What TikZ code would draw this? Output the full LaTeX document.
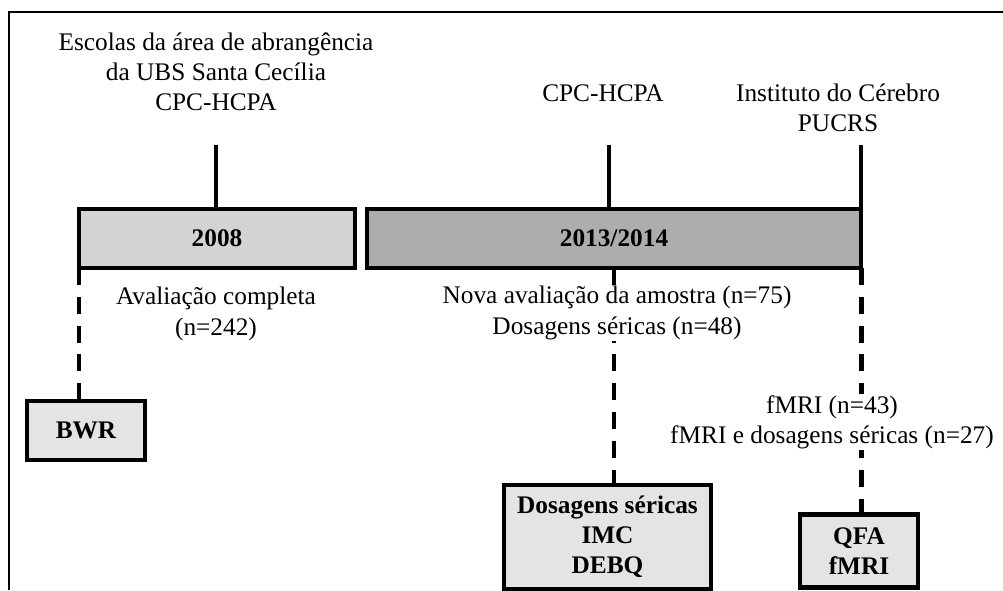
\documentclass[tikz,border=0pt]{standalone}
\usepackage{fontspec}
\setmainfont{Liberation Serif}
\definecolor{lightbar}{HTML}{D3D3D3}
\definecolor{darkbar}{HTML}{ADADAD}
\definecolor{boxfill}{HTML}{E4E4E4}

\begin{document}
\begin{tikzpicture}[x=0.025cm, y=-0.025cm,
    every node/.style={font=\fontsize{18}{21.5}\selectfont, align=center},
    period/.style={draw, line width=3pt, inner sep=0pt, outer sep=0pt, font=\fontsize{18}{21.5}\selectfont\bfseries},
    outbox/.style={draw, line width=3pt, fill=boxfill, inner sep=0pt, outer sep=0pt, font=\fontsize{18}{21.5}\selectfont\bfseries},
    solidline/.style={line width=3pt},
    dashline/.style={line width=3.5pt, dash pattern=on 12pt off 8.5pt}]

    \useasboundingbox (0,0) rectangle (1003,590);

    % frame
    \draw[line width=2pt] (9,590) -- (9,12) -- (1003,12);

    % periods
    \node[period, fill=lightbar, minimum width=6.9cm, minimum height=1.475cm] (y2008) at (217,238.5) {2008};
    \node[period, fill=darkbar, minimum width=12.35cm, minimum height=1.475cm] (y2013) at (614,238.5) {2013/2014};

    % places
    \node (schools) at (216,72) {Escolas da área de abrangência\\da UBS Santa Cecília\\CPC-HCPA};
    \node (cpc) at (603,93) {CPC-HCPA};
    \node (brain) at (838,108) {Instituto do Cérebro\\PUCRS};
    \coordinate (tschools) at (216,145);
    \coordinate (tcpc) at (609,145);
    \coordinate (tbrain) at (861,145);
    \draw[solidline] (tschools) -- (tschools |- y2008.north);
    \draw[solidline] (tcpc) -- (tcpc |- y2013.north);
    \draw[solidline] (tbrain) -- (tbrain |- y2013.north);

    % instruments
    \node[outbox, minimum width=2.95cm, minimum height=1.475cm] (bwr) at (86,430.5) {BWR};
    \node[outbox, minimum width=5.175cm, minimum height=2.6cm] (serum) at (607.5,537) {Dosagens séricas\\IMC\\DEBQ};
    \node[outbox, minimum width=2.95cm, minimum height=1.825cm] (qfa) at (859,551) {QFA\\fMRI};

    % dashed links
    \draw[dashline] (y2008.south west) -- (y2008.south west |- bwr.north);
    \draw[dashline] (y2013.south) -- (y2013.south |- serum.north);
    \draw[dashline] (y2013.south east) -- (y2013.south east |- qfa.north);

    % samples
    \node (full) at (216,314) {Avaliação completa\\(n=242)};
    \node[fill=white, inner sep=1pt] (newval) at (617,313) {Nova avaliação da amostra (n=75)\\Dosagens séricas (n=48)};
    \node[fill=white, inner sep=1pt] (fmri) at (832,422) {fMRI (n=43)\\fMRI e dosagens séricas (n=27)};

\end{tikzpicture}
\end{document}
